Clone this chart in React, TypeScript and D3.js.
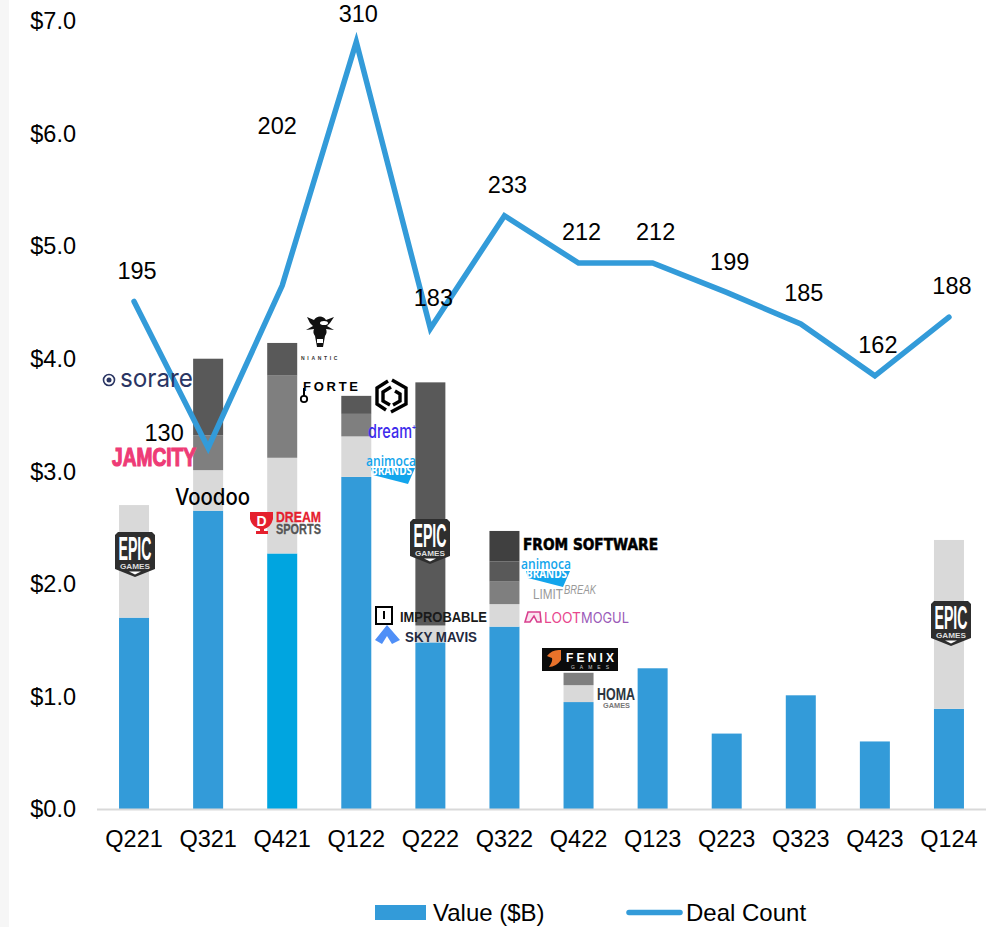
import React from "react";
import * as d3 from "d3";

const quarters = ["Q221","Q321","Q421","Q122","Q222","Q322","Q422","Q123","Q223","Q323","Q423","Q124"];
const valueBase = [1.70,2.65,2.27,2.95,1.48,1.62,0.95,1.25,0.67,1.01,0.60,0.89];
const valueLight = [1.00,0.36,0.85,0.36,0.15,0.20,0.15,0,0,0,0,1.50];
const valueMid = [0,0.31,0.73,0.20,0,0.20,0.11,0,0,0,0,0];
const valueDark = [0,0.68,0.29,0.16,2.16,0.18,0,0,0,0,0,0];
const valueDarkest = [0,0,0,0,0,0.27,0,0,0,0,0,0];
const dealCount = [195,130,202,310,183,233,212,212,199,185,162,188];
const yTicks = [0,1,2,3,4,5,6,7];

const BLUE = "#339bd9";
const FONT = "'Liberation Sans', Arial, sans-serif";
const NARROW = "'Liberation Sans Narrow','Liberation Sans'";

const x = d3.scaleBand<string>().domain(quarters).range([97, 986]).paddingInner(0.595).paddingOuter(0.2975);
const y = d3.scaleLinear().domain([0, 7]).range([809, 21]);
const yDeal = d3.scaleLinear().domain([130, 310]).range([448, 42]);

const seriesKeys = ["base", "light", "mid", "dark", "darkest"];
const seriesColors = [BLUE, "#d9d9d9", "#7f7f7f", "#595959", "#404040"];
const table = quarters.map((q, i) => ({
  q, base: valueBase[i], light: valueLight[i], mid: valueMid[i], dark: valueDark[i], darkest: valueDarkest[i],
}));
const stacked = d3.stack<any>().keys(seriesKeys)(table);
const linePath = d3.line<number>().x((_, i) => x(quarters[i])! + x.bandwidth() / 2).y(d => yDeal(d))(dealCount)!;
const labelOffset = (i: number) => {
  if (i === 1) return { dx: -44, dy: -15 };
  if (i === 2) return { dx: -5, dy: -160 };
  if (i === 3) return { dx: 2, dy: -28 };
  return { dx: 3, dy: -31 };
};

function Epic({ cx, top }: { cx: number; top: number }) {
  return (
    <g transform={`translate(${cx - 20},${top})`}>
      <path d="M3 0H37L40 3V37L20 45L0 37V3Z" fill="#2e2e2e" />
      <text x={20} y={28} textAnchor="middle" fontFamily={NARROW} fontWeight={700} fontSize={33} fill="#fff" textLength={33} lengthAdjust="spacingAndGlyphs">EPIC</text>
      <text x={20} y={37} textAnchor="middle" fontFamily={FONT} fontSize={7} fontWeight={700} fill="#ddd" textLength={30} lengthAdjust="spacingAndGlyphs">GAMES</text>
      <path d="M14 39.5H26L20 42.5Z" fill="#fff" />
    </g>
  );
}

function Animoca({ left, top }: { left: number; top: number }) {
  return (
    <g transform={`translate(${left},${top})`}>
      <path d="M5 13H49L42 29L7 20Z" fill="#13a5ec" />
      <text x={0} y={11} fontFamily="'Open Sans'" fontWeight={600} fontSize={14} fill="#13a5ec" textLength={50} lengthAdjust="spacingAndGlyphs">animoca</text>
      <text x={5} y={20} fontFamily="'Open Sans'" fontSize={12} fontWeight={700} fill="#fff" textLength={41} lengthAdjust="spacingAndGlyphs">BRANDS</text>
    </g>
  );
}

function Logos() {
  return (
    <g>
      {/* Sorare */}
      <circle cx={109} cy={380} r={5.5} fill="none" stroke="#2a3563" strokeWidth={1.6} />
      <circle cx={109} cy={380} r={2.5} fill="#2a3563" />
      <text x={120} y={387} fontFamily="Inter" fontSize={25} fill="#2a3563" textLength={73} lengthAdjust="spacingAndGlyphs">sorare</text>
      {/* Jam City */}
      <text x={112} y={466} fontFamily={NARROW} fontWeight={700} fontSize={25} fill="#ee3b76" textLength={84} lengthAdjust="spacingAndGlyphs" stroke="#ee3b76" strokeWidth={1.2}>JAMCITY</text>
      {/* Voodoo */}
      <text x={175} y={505} fontFamily="Inter" fontWeight={500} fontSize={23} fill="#000" textLength={75} lengthAdjust="spacingAndGlyphs">Voodoo</text>
      {/* Dream Sports */}
      <path d="M250 512H273V519Q271 527 264 529V531H268V534H256V531H260V529Q252 527 250 519Z" fill="#e5202e" />
      <text x={261.5} y={526} textAnchor="middle" fontFamily={FONT} fontWeight={700} fontSize={14} fill="#fff">D</text>
      <text x={276} y={522} fontFamily={NARROW} fontWeight={700} fontSize={15} fill="#e5202e" stroke="#e5202e" strokeWidth={0.3} textLength={45} lengthAdjust="spacingAndGlyphs">DREAM</text>
      <text x={276} y={534} fontFamily={NARROW} fontWeight={700} fontSize={15} fill="#555" stroke="#555" strokeWidth={0.3} textLength={45} lengthAdjust="spacingAndGlyphs">SPORTS</text>
      {/* Niantic */}
      <g transform="translate(305,314)">
        <path d="M2 3L9 6A7 7 0 0 1 21 6L29 3L25 9L22 12L29 16L21 15A7 7 0 0 1 20 22L18 33H12L10 22A7 7 0 0 1 9 15L1 16L8 12L5 9Z" fill="#111" />
        <ellipse cx={19} cy={9} rx={4} ry={2} fill="#fff" />
        <rect x={12} y={25} width={6} height={4} fill="#fff" />
      </g>
      <text x={301} y={360} fontFamily={FONT} fontSize={5} fontWeight={700} letterSpacing={2.7} fill="#333">NIANTIC</text>
      {/* Forte */}
      <line x1={304} x2={304} y1={388} y2={396} stroke="#000" strokeWidth={2} />
      <circle cx={304} cy={399} r={3.2} fill="none" stroke="#000" strokeWidth={1.8} />
      <text x={303} y={390.5} fontFamily={FONT} fontWeight={700} fontSize={13} fill="#000" textLength={55} lengthAdjust="spacing">FORTE</text>
      {/* Hex mark */}
      <g fill="none" stroke="#000" strokeWidth={3.4}>
        <path d="M392 380L406 388V404L391 412" />
        <path d="M386 410L377 404V388L388 381" />
        <path d="M391 387L383 392V401L390 405" />
        <path d="M395 391L400 394V401L393 405" />
      </g>
      {/* dream+ */}
      <text x={368} y={438} fontFamily="Inter" fontWeight={500} fontSize={19} fill="#3d2bec" textLength={44} lengthAdjust="spacingAndGlyphs">dream</text>
      <text x={412} y={430} fontFamily={FONT} fontWeight={700} fontSize={7} fill="#3d2bec">+</text>
      <Animoca left={366} top={455} />
      <Animoca left={521} top={558} />
      <Epic cx={135} top={532} />
      <Epic cx={430} top={519} />
      <Epic cx={951} top={601} />
      {/* Improbable */}
      <rect x={376} y={607} width={16} height={17} fill="#fff" stroke="#000" strokeWidth={2} />
      <rect x={383} y={611} width={2} height={8} fill="#000" />
      <text x={400} y={622} fontFamily={FONT} fontWeight={700} fontSize={14.5} fill="#1a1a1a" textLength={87} lengthAdjust="spacingAndGlyphs">IMPROBABLE</text>
      {/* Sky Mavis */}
      <path d="M375 640L387 625L400 640L392 644L387 636L382 644Z" fill="#4f8ff7" />
      <text x={405} y={642} fontFamily={FONT} fontWeight={700} fontSize={14} fill="#23293f" textLength={72} lengthAdjust="spacingAndGlyphs">SKY MAVIS</text>
      {/* FromSoftware */}
      <text x={523} y={550} fontFamily="'DejaVu Sans'" fontWeight={700} fontSize={16} fill="#000" stroke="#000" strokeWidth={0.6} textLength={135} lengthAdjust="spacingAndGlyphs">FROM SOFTWARE</text>
      {/* Limit Break */}
      <text x={533} y={599} fontFamily={FONT} fontSize={14} fill="#999" textLength={30} lengthAdjust="spacingAndGlyphs">LIMIT</text>
      <text x={564} y={594} fontFamily={FONT} fontSize={13} fontStyle="italic" fill="#999" textLength={32} lengthAdjust="spacingAndGlyphs">BREAK</text>
      {/* LootMogul */}
      <path d="M525 622L528 612H540L541 622H537L534 616L530 622Z" fill="#fbe3ef" stroke="#d9408f" strokeWidth={1.6} />
      <text x={544} y={623} fontFamily="Inter" fontSize={15} fill="#e8478e" textLength={37} lengthAdjust="spacingAndGlyphs">LOOT</text>
      <text x={581} y={623} fontFamily="Inter" fontSize={15} fill="#9a5ab8" textLength={48} lengthAdjust="spacingAndGlyphs">MOGUL</text>
      {/* Fenix */}
      <rect x={542} y={648} width={76} height={23} fill="#0b0b0b" />
      <path d="M547 656Q552 649 561 650V660Q556 667 549 667Q553 661 552 658Q549 657 547 656Z" fill="#e9722a" />
      <text x={566} y={662} fontFamily={FONT} fontWeight={700} fontSize={12} fill="#fff" textLength={48} lengthAdjust="spacing">FENIX</text>
      <text x={571} y={669} fontFamily={FONT} fontSize={5} fill="#ccc" textLength={38} lengthAdjust="spacing">GAMES</text>
      {/* Homa */}
      <text x={597} y={700} fontFamily={NARROW} fontWeight={700} fontSize={17} fill="#2b3640" textLength={38} lengthAdjust="spacingAndGlyphs">HOMA</text>
      <text x={603} y={707.5} fontFamily={FONT} fontWeight={700} fontSize={8} fill="#777" textLength={27} lengthAdjust="spacingAndGlyphs">GAMES</text>
    </g>
  );
}

export default function App() {
  return (
    <svg width={1005} height={927} style={{ position: "absolute", left: 0, top: 0, display: "block", background: "#fff" }} fontFamily={FONT}>
      <rect x={0} y={0} width={9} height={927} fill="#f6f6f6" />
      {stacked.map((s, si) => (
        <g key={s.key}>
          {s.map((d, i) => d[1] - d[0] > 0 ? (
            <rect key={i} x={x(quarters[i])} width={x.bandwidth()} y={y(d[1])} height={y(d[0]) - y(d[1])}
              fill={si === 0 && quarters[i] === "Q421" ? "#00a5e0" : seriesColors[si]} />
          ) : null)}
        </g>
      ))}
      <line x1={97} x2={986} y1={y(0) + 0.5} y2={y(0) + 0.5} stroke="#d9d9d9" strokeWidth={2} />
      {yTicks.map(t => (
        <text key={t} x={76} y={y(t)} dy="0.35em" textAnchor="end" fontSize={23.5} fill="#000">{`$${t.toFixed(1)}`}</text>
      ))}
      {quarters.map(q => (
        <text key={q} x={x(q)! + x.bandwidth() / 2} y={847} textAnchor="middle" fontSize={23.5} fill="#000">{q}</text>
      ))}
      <path d={linePath} fill="none" stroke={BLUE} strokeWidth={5.5} strokeLinejoin="miter" strokeLinecap="round" />
      {dealCount.map((c, i) => {
        const o = labelOffset(i);
        return (
          <text key={i} x={x(quarters[i])! + x.bandwidth() / 2 + o.dx} y={yDeal(c) + o.dy} dy="0.35em" textAnchor="middle" fontSize={23.5} fill="#000">{c}</text>
        );
      })}
      <Logos />
      <rect x={375} y={905} width={51} height={15} fill={BLUE} />
      <text x={433} y={921} fontSize={24} fill="#000">Value ($B)</text>
      <line x1={629} x2={680} y1={912.5} y2={912.5} stroke={BLUE} strokeWidth={5.5} strokeLinecap="round" />
      <text x={686} y={921} fontSize={24} fill="#000">Deal Count</text>
    </svg>
  );
}
